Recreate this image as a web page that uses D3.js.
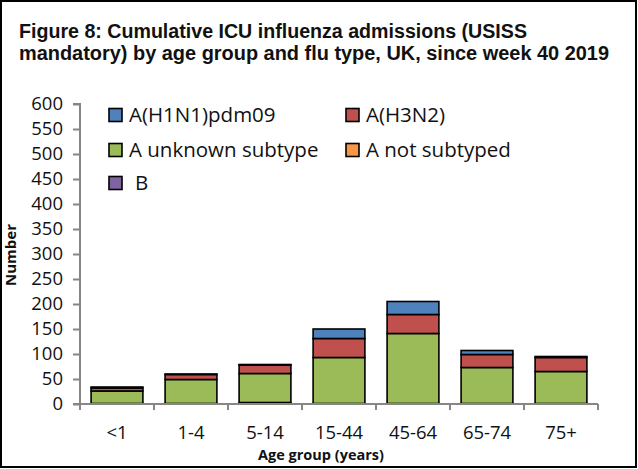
<!DOCTYPE html>
<html>
<head>
<meta charset="utf-8">
<script src="https://cdn.jsdelivr.net/npm/d3@7"></script>
<style>
  body { margin: 0; background: #fff; }
  svg { display: block; }
</style>
</head>
<body>
<svg></svg>
<script>
// data
const ageGroups = ["<1", "1-4", "5-14", "15-44", "45-64", "65-74", "75+"];
const fluB        = [1, 1, 3, 1, 1, 1, 1];
const notSubtyped = [0, 0, 0, 0, 0, 0, 0];
const unknownSub  = [25, 48, 58, 92, 140, 72, 64];
const h3n2        = [6, 10, 17, 38, 38, 26, 28];
const h1n1        = [2, 1, 1, 19, 26, 8, 2];
const yTicks = [0, 50, 100, 150, 200, 250, 300, 350, 400, 450, 500, 550, 600];

const series = [
  {key: "B", name: "B", values: fluB, color: "#8064A2"},
  {key: "ns", name: "A not subtyped", values: notSubtyped, color: "#F79646"},
  {key: "unk", name: "A unknown subtype", values: unknownSub, color: "#9BBB59"},
  {key: "h3", name: "A(H3N2)", values: h3n2, color: "#C0504D"},
  {key: "h1", name: "A(H1N1)pdm09", values: h1n1, color: "#4F81BD"}
];

const width = 638, height = 469;
const margin = {top: 104, right: 40, bottom: 65, left: 80};
const plotW = width - margin.left - margin.right;
const plotH = height - margin.top - margin.bottom;

// build table for d3.stack
const table = ageGroups.map((g, i) => {
  const row = {group: g};
  series.forEach(s => row[s.key] = s.values[i]);
  return row;
});
const stacked = d3.stack().keys(series.map(s => s.key))(table);

const svg = d3.select("svg")
  .attr("width", width)
  .attr("height", height);

// outer frame
svg.append("rect")
  .attr("x", 1).attr("y", 1)
  .attr("width", width - 3).attr("height", height - 3)
  .attr("fill", "none")
  .attr("stroke", "#000")
  .attr("stroke-width", 2);

// title
const title = svg.append("text")
  .attr("font-family", "Liberation Sans, Arial, sans-serif")
  .attr("font-weight", "bold")
  .attr("font-size", 19.5)
  .attr("fill", "#111");
title.append("tspan").attr("x", 19).attr("y", 38)
  .attr("textLength", 508).attr("lengthAdjust", "spacingAndGlyphs")
  .text("Figure 8: Cumulative ICU influenza admissions (USISS");
title.append("tspan").attr("x", 19).attr("y", 60)
  .attr("textLength", 590).attr("lengthAdjust", "spacingAndGlyphs")
  .text("mandatory) by age group and flu type, UK, since week 40 2019");

const graph = svg.append("g")
  .attr("transform", `translate(${margin.left}, ${margin.top})`);

const xScale = d3.scaleBand()
  .domain(ageGroups)
  .range([0, plotW])
  .paddingInner(0.3)
  .paddingOuter(0.15);

const yScale = d3.scaleLinear()
  .domain([0, 600])
  .range([plotH, 0]);

// bars
const layers = graph.selectAll("g.layer")
  .data(stacked)
  .enter().append("g")
    .attr("class", "layer")
    .attr("fill", (d, i) => series[i].color);

layers.selectAll("rect")
  .data(d => d.filter(p => p[1] - p[0] > 0))
  .enter().append("rect")
    .attr("x", d => xScale(d.data.group))
    .attr("y", d => yScale(d[1]))
    .attr("width", xScale.bandwidth())
    .attr("height", d => yScale(d[0]) - yScale(d[1]))
    .attr("stroke", "#000")
    .attr("stroke-width", 1.6);

// y axis
const yAxisGroup = graph.append("g");
d3.axisLeft(yScale)
  .tickValues(yTicks)
  .tickSize(7)
  .tickPadding(10)(yAxisGroup);

// x axis: ticks on category boundaries
const xAxisGroup = graph.append("g")
  .attr("transform", `translate(0, ${plotH})`);
d3.axisBottom(xScale).tickSize(0).tickPadding(22)(xAxisGroup);
const step = xScale.step();
xAxisGroup.selectAll("line.sep")
  .data(d3.range(ageGroups.length + 1))
  .enter().append("line")
    .attr("class", "sep")
    .attr("x1", i => i * step).attr("x2", i => i * step)
    .attr("y1", 0).attr("y2", 6);

[yAxisGroup, xAxisGroup].forEach(g => {
  g.selectAll(".domain, line")
    .attr("stroke", "#868686")
    .attr("stroke-width", 2);
  g.selectAll("text")
    .attr("font-family", "Open Sans, sans-serif")
    .attr("font-size", 18.5)
    .attr("fill", "#111");
});
yAxisGroup.select(".domain").attr("d", `M-7,${plotH}H0V0H-7`);
xAxisGroup.select(".domain").attr("d", `M0,0H${plotW}`);

// axis titles
svg.append("text")
  .attr("x", 321).attr("y", 460)
  .attr("text-anchor", "middle")
  .attr("font-family", "Open Sans, sans-serif")
  .attr("font-weight", "bold")
  .attr("font-size", 14.5)
  .attr("fill", "#111")
  .text("Age group (years)");

svg.append("text")
  .attr("transform", "translate(16, 255) rotate(-90)")
  .attr("text-anchor", "middle")
  .attr("font-family", "Open Sans, sans-serif")
  .attr("font-weight", "bold")
  .attr("font-size", 15)
  .attr("fill", "#111")
  .text("Number");

// legend (as in the reference layout)
const legendOrder = ["h1", "h3", "unk", "ns", "B"];
const legendPos = [[109, 115], [346, 115], [109, 150], [346, 150], [109, 183]];
const legend = svg.append("g");
legendOrder.forEach((k, i) => {
  const s = series.find(d => d.key === k);
  const [lx, ly] = legendPos[i];
  legend.append("rect")
    .attr("x", lx).attr("y", ly - 6.5)
    .attr("width", 13).attr("height", 13)
    .attr("fill", s.color)
    .attr("stroke", "#000")
    .attr("stroke-width", 1.6);
  legend.append("text")
    .attr("x", lx + (k === "B" ? 26 : 20)).attr("y", ly)
    .attr("dy", "0.36em")
    .attr("font-family", "Open Sans, sans-serif")
    .attr("font-size", 20.5)
    .attr("fill", "#111")
    .text(s.name);
});
</script>
</body>
</html>
